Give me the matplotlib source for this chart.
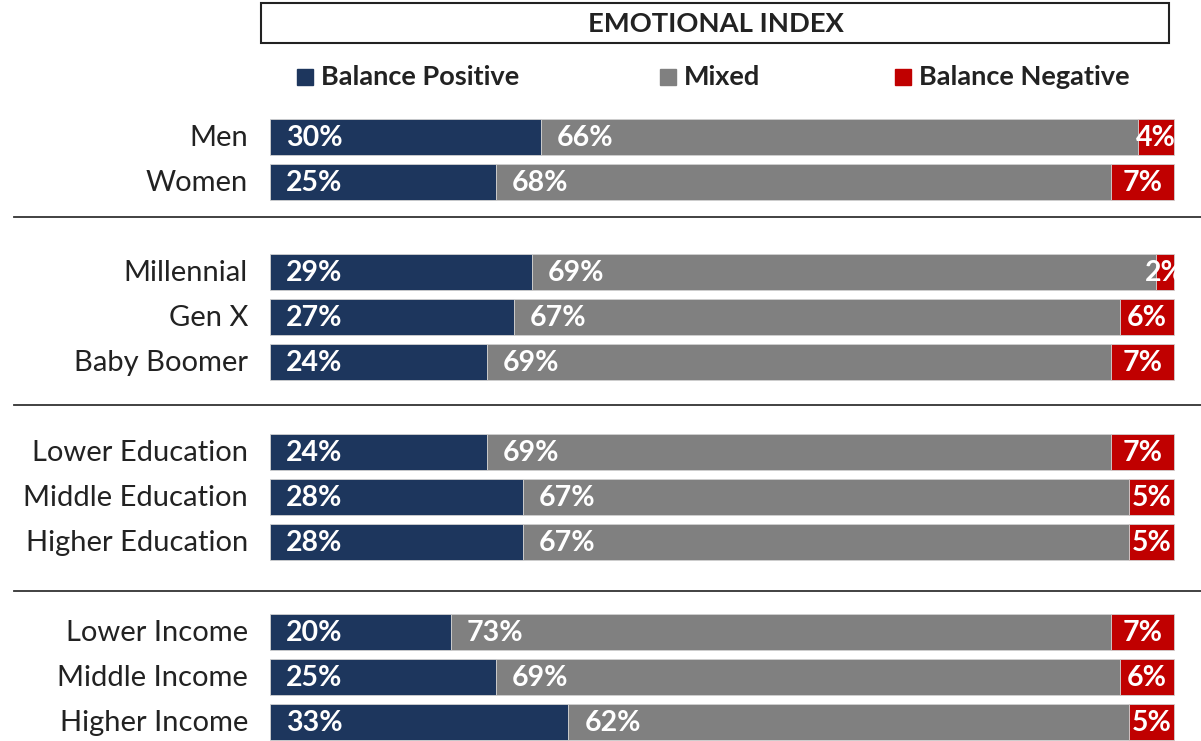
import matplotlib.pyplot as plt
from matplotlib.patches import Rectangle

plt.rcParams['font.family'] = ['Lato', 'DejaVu Sans']

categories = ['Men', 'Women', 'Millennial', 'Gen X', 'Baby Boomer',
              'Lower Education', 'Middle Education', 'Higher Education',
              'Lower Income', 'Middle Income', 'Higher Income']
groups = [0, 0, 1, 1, 1, 2, 2, 2, 3, 3, 3]
positive = [30, 25, 29, 27, 24, 24, 28, 28, 20, 25, 33]
mixed = [66, 68, 69, 67, 69, 69, 67, 67, 73, 69, 62]
negative = [4, 7, 2, 6, 7, 7, 5, 5, 7, 6, 5]
series_names = ['Balance Positive', 'Mixed', 'Balance Negative']
colors = ['#1d365d', '#808080', '#c00000']

W, H = 1201, 741
fig = plt.figure(figsize=(W / 100, H / 100), dpi=100)
ax = fig.add_axes([0, 0, 1, 1])
# pixel-like coordinates: bars run 0..100 across x=270..1174 px
px = 904 / 100
ax.set_xlim(-270 / px, (W - 270) / px)
ax.set_ylim(H, 0)
ax.axis('off')

ypos = [137 + 45 * (i + g) for i, g in enumerate(groups)]
bar_h = 36

for y, cat, p, m, n in zip(ypos, categories, positive, mixed, negative):
    tot = p + m + n
    vals = [v * 100 / tot for v in (p, m, n)]
    left = 0
    for v, c in zip(vals, colors):
        ax.barh(y, v, left=left, height=bar_h, color=c, edgecolor='#d0d0d0', linewidth=0.6)
        left += v
    ax.text(-22 / px, y + 1, cat, ha='right', va='center', fontsize=21, color='#222222')
    ax.text(16 / px, y + 1, f'{p}%', ha='left', va='center', fontsize=20.5,
            fontweight='bold', color='white')
    ax.text(vals[0] + 16 / px, y + 1, f'{m}%', ha='left', va='center', fontsize=20.5,
            fontweight='bold', color='white')
    t = ax.text(100 - vals[2] / 2, y + 1, f'{n}%', ha='center', va='center', fontsize=20.5,
                fontweight='bold', color='white')
    clip = Rectangle((100 - vals[2], y - bar_h / 2), vals[2] + 0.3, bar_h,
                     transform=ax.transData, visible=False)
    ax.add_patch(clip)
    t.set_clip_path(clip)

# group separators
for ys in [217, 405, 591]:
    ax.plot([-256 / px, (W - 270) / px], [ys, ys], color='#333333', lw=1.3, clip_on=False)

# title box
ax.add_patch(Rectangle((-9 / px, 3), 908 / px, 40, fill=False, edgecolor='#222222', lw=1.5))
ax.text(446 / px, 24, 'EMOTIONAL INDEX', ha='center', va='center', fontsize=19.7,
        fontweight='bold', color='#222222')

# legend
leg_x = [297, 660, 895]
for lx, name, c in zip(leg_x, series_names, colors):
    ax.add_patch(Rectangle(((lx - 270) / px, 69), 16 / px, 16, color=c))
    ax.text((lx - 270 + 24) / px, 77, name, ha='left', va='center', fontsize=19.5,
            fontweight='bold', color='#222222')

fig.savefig('out.png', dpi=100)
